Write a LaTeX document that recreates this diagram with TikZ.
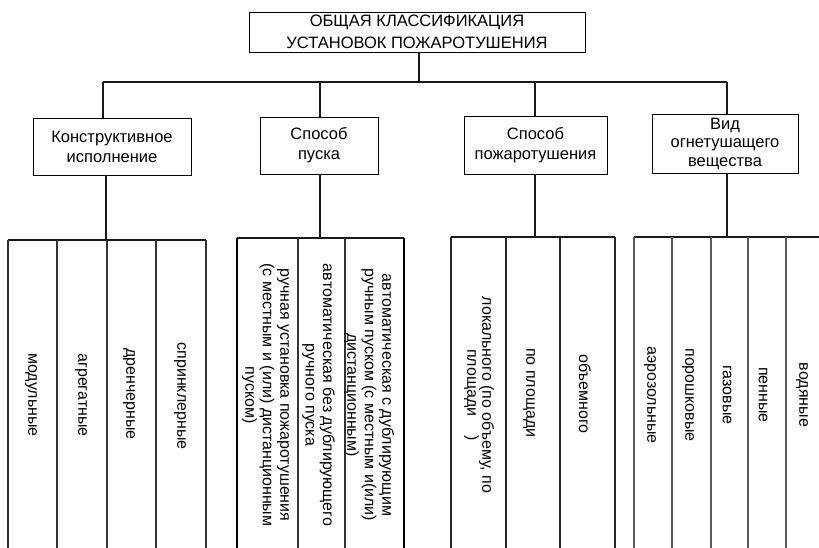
\documentclass[tikz,border=0pt]{standalone}
\usepackage{fontspec}
\setmainfont{Liberation Sans}
\begin{document}
\begin{tikzpicture}[x=1pt,y=-1pt,
  box/.style={draw, line width=0.8pt, align=center, inner sep=0pt,
              font=\fontsize{16.5}{20}\selectfont},
  conn/.style={line width=1.8pt, black!90},
  bar/.style={line width=1.8pt, black!90},
  col/.style={line width=1.2pt, black!80},
  vtext/.style={rotate=-90, align=center, inner sep=0pt,
                font=\fontsize{16}{17.5}\selectfont}]
\useasboundingbox (0,0) rectangle (819,548);

% boxes
\node[box, minimum width=336pt, minimum height=40pt,
      font=\fontsize{16.5}{21.5}\selectfont] (top) at (417,32)
  {ОБЩАЯ КЛАССИФИКАЦИЯ\\УСТАНОВОК ПОЖАРОТУШЕНИЯ};
\node[box, minimum width=158pt, minimum height=57pt] (k1) at (112,146.5)
  {Конструктивное\\исполнение};
\node[box, minimum width=118pt, minimum height=57pt] (k2) at (319,145.5)
  {Способ\\пуска};
\node[box, minimum width=143pt, minimum height=58pt] (k3) at (535.5,145)
  {Способ\\пожаротушения};
\node[box, minimum width=146pt, minimum height=59pt,
      font=\fontsize{16.5}{18.5}\selectfont] (k4) at (725,143.5)
  {Вид\\огнетушащего\\вещества};

% upper connectors
\coordinate (hub) at (419,82);
\coordinate (d1) at (103,82);
\coordinate (d2) at (320,82);
\coordinate (d3) at (535,82);
\coordinate (d4) at (727,82);
\draw[conn] (hub |- top.south) -- (hub);
\draw[conn] (d1) -- (d4);
\draw[conn] (d1) -- (d1 |- k1.north);
\draw[conn] (d2) -- (d2 |- k2.north);
\draw[conn] (d3) -- (d3 |- k3.north);
\draw[conn] (d4) -- (d4 |- k4.north);

% lower connectors
\coordinate (g1) at (106,240);
\coordinate (g2) at (320,238);
\coordinate (g3) at (535,237);
\coordinate (g4) at (727,237);
\draw[conn] (g1 |- k1.south) -- (g1);
\draw[conn] (g2 |- k2.south) -- (g2);
\draw[conn] (g3 |- k3.south) -- (g3);
\draw[conn] (g4 |- k4.south) -- (g4);

% group bars and columns
\draw[bar] (8,240) -- (206,240);
\foreach \x in {8,57,107,156,206} \draw[col] (\x,240) -- (\x,548);
\draw[bar] (237,238) -- (404,238);
\foreach \x in {237,404} \draw[line width=1.6pt] (\x,238) -- (\x,548);
\foreach \x in {298,345} \draw[col] (\x,238) -- (\x,548);
\draw[bar] (451,237) -- (615,237);
\foreach \x in {451,506,560,615} \draw[line width=1.5pt, black!85] (\x,237) -- (\x,548);
\draw[bar] (634,237) -- (819,237);
\foreach \x in {634,672,711,748,786} \draw[col, black!65] (\x,237) -- (\x,548);

% group 1 texts
\node[vtext] (a1) at (31,395) {модульные};
\node[vtext] (a2) at (81,395) {агрегатные};
\node[vtext] (a3) at (129,394) {дренчерные};
\node[vtext] (a4) at (180,396) {спринклерные};

% group 2 texts
\node[vtext] (b1) at (265.5,395)
  {ручная установка пожаротушения\\(с местным и (или) дистанционным\\пуском)};
\node[vtext] (b2) at (318.5,395)
  {автоматическая без дублирующего\\ручного пуска};
\node[vtext] (b3) at (369,395)
  {автоматическая с дублирующим\\ручным пуском (с местным и(или)\\дистанционным)};

% group 3 texts
\node[vtext, font=\fontsize{16}{15}\selectfont] (c1) at (479,395)
  {локального (по объему, по\\площади\hspace{1.2em})};
\node[vtext] (c2) at (529,393) {по площади};
\node[vtext] (c3) at (585,394) {объемного};

% group 4 texts
\node[vtext] (e1) at (650,395) {аэрозольные};
\node[vtext] (e2) at (688,395) {порошковые};
\node[vtext] (e3) at (727,395) {газовые};
\node[vtext] (e4) at (763,395) {пенные};
\node[vtext] (e5) at (802,395) {водяные};
\end{tikzpicture}
\end{document}
